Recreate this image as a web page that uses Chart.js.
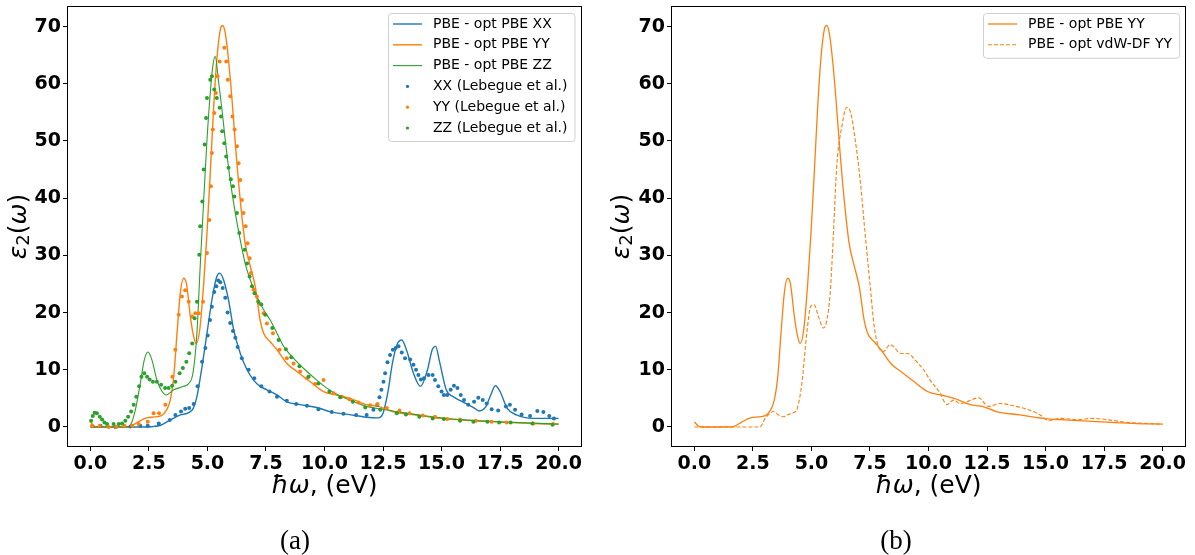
<!DOCTYPE html>
<html>
<head>
<meta charset="utf-8">
<script src="https://cdn.jsdelivr.net/npm/chart.js@4.4.0/dist/chart.umd.min.js"></script>
<style>
  body { margin: 0; background: #fff; width: 1195px; height: 555px; position: relative; overflow: hidden; }
  .panel { position: absolute; top: 0; height: 555px; }
  #pa { left: 0; width: 597px; }
  #pb { left: 597px; width: 598px; }
  .cap { position: absolute; top: 524px; width: 60px; text-align: center; font: 27px "Liberation Serif", serif; line-height: 32px; color: #000; }
</style>
</head>
<body>
<div class="panel" id="pa"><canvas id="chartA"></canvas></div>
<div class="panel" id="pb"><canvas id="chartB"></canvas></div>
<div class="cap" style="left:265px">(a)</div>
<div class="cap" style="left:866px">(b)</div>
<script>
// ticks
const X_TICKS = [0, 2.5, 5, 7.5, 10, 12.5, 15, 17.5, 20];
const Y_TICKS = [0, 10, 20, 30, 40, 50, 60, 70];

// PBE - opt PBE, lignes
const lineE_XX = [0,1,2,2.6,3.0,3.4,3.84,4.2,4.4,4.55,4.77,4.98,5.19,5.4,5.52,5.69,5.9,6.12,6.4,6.69,6.97,7.25,7.54,7.97,8.39,8.96,9.67,10.3,11.0,11.8,12.3,12.5,12.7,12.9,13.1,13.3,13.5,13.8,14.1,14.4,14.6,14.75,14.9,15.2,15.5,15.9,16.4,16.6,16.9,17.1,17.3,17.5,17.8,18.2,18.9,20];
const lineXX = [0,0,0,0.05,0.3,1.2,2.1,2.5,3.3,5.3,10.6,16.4,22.2,26.3,26.9,25.7,22.2,17.0,12.9,10.0,8.2,7.1,6.5,5.6,4.4,3.9,3.4,2.6,2.2,1.7,1.6,2.4,5.9,11.1,14.4,15.2,13.5,9.4,7.1,10.0,13.5,14.1,11.7,6.5,5.3,4.4,3.3,2.8,3.6,5.6,7.2,6.2,3.3,2.1,1.5,1.5];

const lineE_YY = [0,0.15,0.3,1.5,1.7,2.0,2.4,2.84,3.13,3.41,3.56,3.7,3.84,3.98,4.1,4.27,4.41,4.52,4.67,4.84,4.98,5.12,5.26,5.4,5.55,5.65,5.76,5.9,6.05,6.19,6.4,6.61,6.83,7.04,7.25,7.4,7.68,7.97,8.39,8.82,9.39,9.96,10.5,11.1,11.8,12.3,12.9,13.9,14.9,16.4,17.8,18.9,20];
const lineYY = [0.9,0.2,0,0,0.1,0.8,1.6,1.8,2.3,4.7,8.8,16.4,23.4,26.0,25.1,19.3,15.8,14.6,17.0,25.1,33.9,44.4,55.5,64.2,69.5,70.2,68.9,64.2,57.2,49.6,39.7,32.1,28.1,24.6,18.7,16.4,14.9,13.5,11.1,9.7,7.9,6.2,5.6,5.0,3.9,3.6,2.7,2.1,1.5,1.1,0.8,0.6,0.5];

const lineE_ZZ = [0,1.5,1.7,1.92,2.13,2.3,2.46,2.63,2.84,3.06,3.24,3.56,3.98,4.2,4.38,4.55,4.69,4.84,4.98,5.12,5.23,5.33,5.48,5.62,5.76,5.97,6.19,6.4,6.61,6.83,7.11,7.4,7.68,7.97,8.25,8.68,9.25,9.67,10.1,10.67,11.1,11.8,12.5,13.2,14.6,16.1,17.5,20];
const lineZZ = [0,0,0.3,3.0,7.6,11.7,13.1,11.7,8.2,6.2,5.6,6.5,7.1,7.6,9.4,16.4,28.1,39.7,50.2,58.4,63.1,64.8,60.2,55.5,50.2,43.2,37.4,32.7,28.6,25.7,22.8,20.5,18.7,16.4,14.1,12.0,9.7,8.2,6.8,5.4,4.7,3.6,3.1,2.6,1.8,1.2,0.9,0.5];

// Lebegue et al. (points)
const dotE_XX = [0.43,1.07,1.71,2.13,2.45,2.92,3.39,3.63,3.87,4.05,4.22,4.41,4.58,4.77,4.91,5.01,5.11,5.19,5.29,5.38,5.46,5.55,5.65,5.76,5.86,5.97,6.09,6.19,6.29,6.47,6.76,7.0,7.3,7.65,7.97,8.39,8.79,9.25,9.74,10.31,10.81,11.35,11.8,12.09,12.26,12.35,12.43,12.52,12.59,12.69,12.8,12.92,13.04,13.16,13.3,13.44,13.66,13.8,13.91,14.01,14.12,14.25,14.44,14.62,14.72,14.86,15.0,15.1,15.24,15.39,15.53,15.68,15.82,15.96,16.14,16.39,16.57,16.76,16.93,17.14,17.42,17.75,17.92,18.14,18.42,18.78,19.09,19.35,19.6,19.8];
const dotXX = [0.2,0.0,0.1,0.2,0.2,0.6,1.2,2.1,2.7,3.2,3.3,4.0,7.1,11.4,13.8,16.0,18.7,21.0,23.6,24.6,25.6,25.3,24.3,22.6,20.0,18.2,16.8,15.6,14.0,12.0,10.0,8.5,7.1,6.2,5.3,4.6,4.0,3.7,3.1,2.6,2.3,2.1,2.1,3.0,3.9,5.2,6.5,7.9,9.4,11.3,12.6,13.5,13.8,14.1,13.0,12.0,11.8,10.9,10.0,9.1,8.3,8.5,9.1,9.1,8.2,7.1,6.2,5.6,5.6,6.5,7.2,6.8,5.6,4.7,3.9,4.4,5.1,4.7,4.1,3.1,2.9,3.6,3.9,3.0,2.2,1.9,2.8,2.6,1.9,1.5];

const dotE_YY = [0.07,0.4,0.78,1.1,1.45,1.78,2.06,2.45,2.7,2.93,3.2,3.5,3.63,3.77,3.91,4.05,4.2,4.34,4.48,4.62,4.81,4.98,5.08,5.15,5.19,5.23,5.29,5.36,5.43,5.52,5.72,5.8,5.87,5.97,6.07,6.16,6.26,6.33,6.4,6.47,6.54,6.63,6.71,6.8,6.86,6.97,7.11,7.23,7.4,7.54,7.8,8.08,8.39,8.68,8.96,9.25,9.6,9.96,10.38,10.74,11.07,11.45,11.95,12.26,12.66,13.2,13.63,14.2,14.72,15.25,15.79,16.46,17.14,17.78,18.92,19.77];
const dotYY = [0.2,0.2,0.0,0.0,0.2,0.2,0.5,0.9,2.4,2.4,3.9,8.8,13.5,19.6,22.8,23.9,21.9,19.3,19.9,19.9,21.9,30.4,36.2,42.1,47.9,52.0,54.9,58.4,61.3,63.9,66.3,63.9,60.7,57.8,54.3,52.0,49.1,46.1,43.2,39.7,37.4,35.1,32.1,29.5,26.9,24.0,22.8,21.6,19.9,18.1,16.4,13.5,12.0,11.1,9.7,8.5,7.5,8.2,5.9,5.3,4.8,4.3,3.8,4.0,3.3,2.9,2.4,2.0,1.8,1.4,1.3,1.1,0.9,0.8,0.6,0.5];

const dotE_ZZ = [0.03,0.1,0.18,0.28,0.4,0.5,0.6,0.71,0.99,1.21,1.35,1.49,1.61,1.74,1.85,1.96,2.08,2.18,2.3,2.42,2.53,2.67,2.84,3.02,3.19,3.34,3.49,3.63,3.81,3.95,4.1,4.22,4.35,4.45,4.55,4.65,4.69,4.78,4.84,4.88,4.94,4.98,5.12,5.19,5.29,5.4,5.52,5.58,5.63,5.72,5.8,5.9,6.0,6.09,6.15,6.26,6.36,6.59,6.69,6.8,6.9,7.01,7.17,7.3,7.47,7.77,8.04,8.35,8.58,8.93,9.32,9.74,10.21,10.67,11.21,11.74,12.38,13.09,13.48,14.05,14.62,15.1,15.79,16.36,16.96,17.46,17.95,18.88,19.74];
const dotZZ = [1.1,1.9,2.5,2.4,1.8,1.3,0.8,0.5,0.5,0.5,0.6,1.1,1.8,2.7,3.9,5.3,7.1,8.8,9.4,8.8,8.3,7.9,7.9,7.4,6.8,6.8,7.2,7.9,9.4,10.3,11.4,12.9,14.6,19.0,21.9,30.1,35.1,39.4,45.0,49.4,54.0,57.5,60.7,61.3,59.0,57.5,55.8,54.3,51.7,49.6,47.3,45.3,43.3,42.1,40.3,37.4,33.9,31.0,28.6,26.3,24.6,23.4,21.9,21.4,19.6,17.3,15.2,13.6,12.2,10.6,8.8,7.6,6.2,5.2,4.4,3.4,3.0,2.4,2.2,1.8,1.5,1.4,1.1,0.9,0.9,0.8,0.8,0.6,0.4];

// PBE - opt vdW-DF YY
const vdwE_YY = [0,2.8,3.02,3.23,3.38,3.59,3.8,4.02,4.23,4.4,4.59,4.8,4.97,5.11,5.3,5.51,5.66,5.8,5.94,6.08,6.3,6.51,6.68,6.87,7.08,7.29,7.51,7.68,7.86,8.08,8.36,8.5,8.79,9.15,9.43,9.79,10.07,10.5,10.78,11.07,11.35,11.64,12.14,12.56,13.06,13.63,14.35,14.77,15.13,15.63,16.34,17.05,17.76,18.48,19.33,20];
const vdwYY = [0,0,1.5,2.4,2.7,2.1,1.8,2.2,2.5,3.3,7.6,16.4,21.1,21.4,19.3,17.3,18.7,23.4,33.9,45.6,52.6,55.9,54.9,50.2,43.2,33.9,24.6,17.6,14.1,13.2,14.4,14.1,12.9,12.8,11.7,10.0,8.2,5.9,3.9,4.7,4.1,4.4,5.1,3.6,4.1,3.7,2.9,2.1,1.1,1.5,1.3,1.5,1.2,0.8,0.6,0.5];

const C_BLUE = '#1f77b4', C_ORANGE = '#ff7f0e', C_GREEN = '#2ca02c';
const FONT = '"DejaVu Sans", sans-serif';

function pts(e, v) {
  return e.map((x, i) => ({ x: x, y: v[i] }));
}

function lineSet(label, e, v, color, width, order, dash) {
  return {
    label: label, data: pts(e, v), showLine: true, borderColor: color, backgroundColor: color,
    borderWidth: width, borderDash: dash || [], pointRadius: 0, cubicInterpolationMode: 'monotone',
    order: order
  };
}

function dotSet(label, e, v, color, order) {
  return {
    label: label, data: pts(e, v), showLine: false, pointRadius: 2, pointBorderWidth: 0,
    pointBackgroundColor: color, borderColor: color, backgroundColor: color, order: order
  };
}

// texte "riche" : [texte, style] ; style i = italique, s = indice
function drawRich(ctx, parts, cx, cy, rot, size) {
  ctx.save();
  ctx.translate(cx, cy);
  ctx.rotate(rot);
  const fontOf = st => (st === 'i' ? 'italic ' : '') + (st === 's' ? Math.round(size * 0.7) : size) + 'px ' + FONT;
  let total = 0;
  const w = parts.map(p => { ctx.font = fontOf(p[1]); const m = ctx.measureText(p[0]).width; total += m; return m; });
  let x = -total / 2;
  ctx.fillStyle = '#000';
  ctx.textBaseline = 'middle';
  ctx.textAlign = 'left';
  parts.forEach((p, i) => {
    ctx.font = fontOf(p[1]);
    ctx.fillText(p[0], x, p[1] === 's' ? size * 0.22 : 0);
    x += w[i];
  });
  ctx.restore();
}

const decor = {
  id: 'decor',
  afterDraw(chart, args, o) {
    const ctx = chart.ctx, a = chart.chartArea;
    ctx.save();
    // cadre
    ctx.strokeStyle = '#000';
    ctx.lineWidth = 1;
    ctx.strokeRect(a.left + 0.5, a.top + 0.5, a.right - a.left - 1, a.bottom - a.top - 1);

    // titres des axes
    drawRich(ctx, [['ε', 'i'], ['2', 's'], ['(', 'n'], ['ω', 'i'], [')', 'n']], o.yTitleX, (a.top + a.bottom) / 2, -Math.PI / 2, 25);
    drawRich(ctx, [['ħω', 'i'], [', (eV)', 'n']], (a.left + a.right) / 2, o.xTitleY, 0, 25);

    // légende
    const L = o.legend;
    ctx.font = '14px ' + FONT;
    const items = chart.data.datasets;
    const tw = Math.max(...items.map(d => ctx.measureText(d.label).width));
    const w = L.pad + L.handle + L.gap + tw + L.padR;
    const h = L.top0 + (items.length - 1) * L.row + L.bot;
    const x0 = Math.round(a.right - L.dx - w), y0 = Math.round(a.top + L.dy);
    ctx.beginPath();
    ctx.roundRect(x0 + 0.5, y0 + 0.5, w, h, 3);
    ctx.fillStyle = 'rgba(255,255,255,0.8)';
    ctx.fill();
    ctx.strokeStyle = '#d0d0d0';
    ctx.stroke();
    items.forEach((d, i) => {
      const cy = y0 + L.top0 + i * L.row;
      if (d.showLine) {
        ctx.beginPath();
        ctx.setLineDash(d.borderDash || []);
        ctx.lineWidth = d.borderWidth;
        ctx.strokeStyle = d.borderColor;
        ctx.moveTo(x0 + L.pad, cy);
        ctx.lineTo(x0 + L.pad + L.handle, cy);
        ctx.stroke();
        ctx.setLineDash([]);
      } else {
        ctx.beginPath();
        ctx.arc(x0 + L.pad + L.handle / 2, cy, 1.6, 0, Math.PI * 2);
        ctx.fillStyle = d.pointBackgroundColor;
        ctx.fill();
      }
      ctx.fillStyle = '#000';
      ctx.font = '14px ' + FONT;
      ctx.textBaseline = 'middle';
      ctx.textAlign = 'left';
      ctx.fillText(d.label, x0 + L.pad + L.handle + L.gap, cy);
    });
    ctx.restore();
  }
};

function makeChart(id, datasets, yWidth, padRight, yTitleX, legend) {
  const tickFont = { family: FONT, size: 19, weight: 'bold' };
  return new Chart(document.getElementById(id), {
    type: 'scatter',
    data: { datasets: datasets },
    options: {
      responsive: true,
      maintainAspectRatio: false,
      animation: false,
      events: [],
      layout: { padding: { left: 0, top: 6, right: padRight, bottom: 0 } },
      scales: {
        x: {
          type: 'linear', min: -1, max: 21,
          afterBuildTicks: s => { s.ticks = X_TICKS.map(v => ({ value: v })); },
          afterFit: s => { s.height = 108; s.paddingLeft = 0; s.paddingRight = 0; },
          ticks: { callback: v => Number(v).toFixed(1), font: tickFont, color: '#000', padding: 2, maxRotation: 0, autoSkip: false },
          grid: { drawOnChartArea: false, drawTicks: true, tickLength: 4, tickColor: '#000' },
          border: { display: false }
        },
        y: {
          type: 'linear', min: -3.5, max: 73.6,
          afterBuildTicks: s => { s.ticks = Y_TICKS.map(v => ({ value: v })); },
          afterFit: s => { s.width = yWidth; s.paddingTop = 0; s.paddingBottom = 0; },
          ticks: { callback: v => String(v), font: tickFont, color: '#000', padding: 2 },
          grid: { drawOnChartArea: false, drawTicks: true, tickLength: 4, tickColor: '#000' },
          border: { display: false }
        }
      },
      plugins: {
        legend: { display: false },
        tooltip: { enabled: false },
        decor: { yTitleX: yTitleX, xTitleY: 486, legend: legend }
      }
    },
    plugins: [decor]
  });
}

const legendStyle = { dx: 7, dy: 7, pad: 5, handle: 29, gap: 11, padR: 7, top0: 11, row: 20.8, bot: 13 };

makeChart('chartA', [
  lineSet('PBE - opt PBE XX', lineE_XX, lineXX, C_BLUE, 1.4, 6),
  lineSet('PBE - opt PBE YY', lineE_YY, lineYY, C_ORANGE, 1.4, 5),
  lineSet('PBE - opt PBE ZZ', lineE_ZZ, lineZZ, C_GREEN, 1.1, 4),
  dotSet('XX (Lebegue et al.)', dotE_XX, dotXX, C_BLUE, 3),
  dotSet('YY (Lebegue et al.)', dotE_YY, dotYY, C_ORANGE, 2),
  dotSet('ZZ (Lebegue et al.)', dotE_ZZ, dotZZ, C_GREEN, 1)
], 67, 15, 19, legendStyle);

makeChart('chartB', [
  lineSet('PBE - opt PBE YY', lineE_YY, lineYY, C_ORANGE, 1.3, 2),
  lineSet('PBE - opt vdW-DF YY', vdwE_YY, vdwYY, C_ORANGE, 1.1, 1, [4, 2])
], 74, 9, 25, legendStyle);
</script>
</body>
</html>
